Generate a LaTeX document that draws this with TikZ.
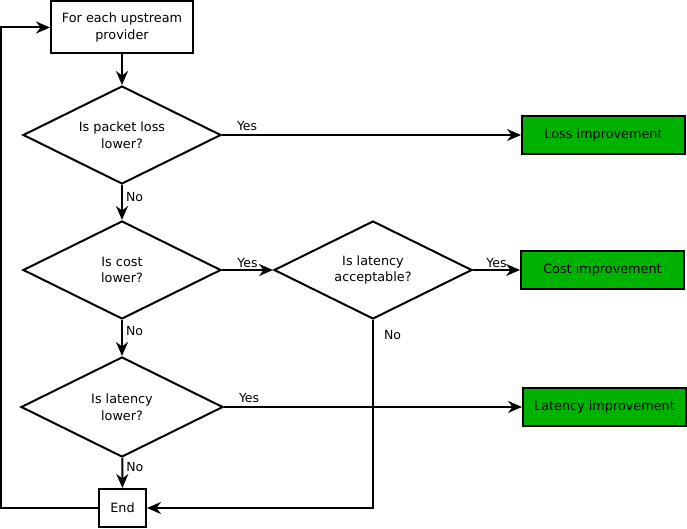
\documentclass[tikz,border=0pt]{standalone}
\usepackage{fontspec}
\setmainfont{DejaVu Sans}
\usetikzlibrary{shapes.geometric,arrows.meta}

\begin{document}
\begin{tikzpicture}[
      x=1pt,y=-1pt,
      line width=2pt,
      >={Stealth[length=14pt,width=12pt,inset=4.5pt]},
      plain box/.style ={draw,rectangle,fill=#1,inner sep=0pt,font=\fontsize{12.8}{17}\selectfont,align=center},
      plain box/.default=white,
      test box/.style ={draw,diamond,aspect=2,inner sep=0pt,minimum width=198pt,minimum height=98pt,font=\fontsize{12.8}{16.5}\selectfont,align=center},
      answer/.style ={font=\fontsize{12.5}{14}\selectfont,inner sep=1pt}
      ]
    \useasboundingbox (0,0) rectangle (687,529);
    \node[plain box,minimum width=142pt,minimum height=52pt] (provider) at (122,27.5) {For each upstream\\provider};
    \node[test box] (loss) at (122,135) {Is packet loss\\lower?};
    \node[test box] (cost) at (122,270) {Is cost\\lower?};
    \node[test box] (accept) at (373,270) {Is latency\\acceptable?};
    \node[test box,minimum width=202pt,minimum height=100pt] (latency) at (122,407) {Is latency\\lower?};
    \node[plain box,minimum width=47pt,minimum height=38pt] (end) at (122.5,508) {End};
    \node[plain box=green!70!black,minimum width=163pt,minimum height=38pt] (loss ok) at (603.5,135) {Loss improvement};
    \node[plain box=green!70!black,minimum width=163pt,minimum height=38pt] (cost ok) at (602.5,270) {Cost improvement};
    \node[plain box=green!70!black,minimum width=163pt,minimum height=38pt] (latency ok) at (604.5,407) {Latency improvement};
    \coordinate (back) at (1,508);
    \draw[->] (provider) -- (loss);
    \draw[->] (loss.east) -- node[answer,pos=0,anchor=south west,xshift=13pt,yshift=2pt] {Yes} (loss ok.west);
    \draw[->] (loss) -- node[answer,pos=0,anchor=north west,xshift=2pt,yshift=-5pt] {No} (cost);
    \draw[->] (cost.east) -- node[answer,midway,above] {Yes} (accept.west);
    \draw[->] (accept.east) -- node[answer,midway,above] {Yes} (cost ok.west);
    \draw[->] (accept.south) |- node[answer,pos=0,anchor=north west,xshift=9pt,yshift=-8pt] {No} (end.east);
    \draw[->] (cost) -- node[answer,pos=0,anchor=north west,xshift=2pt,yshift=-4pt] {No} (latency);
    \draw[->] (latency.east) -- node[answer,pos=0,anchor=south west,xshift=13pt,yshift=2pt] {Yes} (latency ok.west);
    \draw[->] (latency) -- node[answer,pos=0,anchor=north west,xshift=2pt,yshift=-3pt] {No} (end);
    \draw[->] (end.west) -- (back) |- (provider.west);
\end{tikzpicture}
\end{document}
